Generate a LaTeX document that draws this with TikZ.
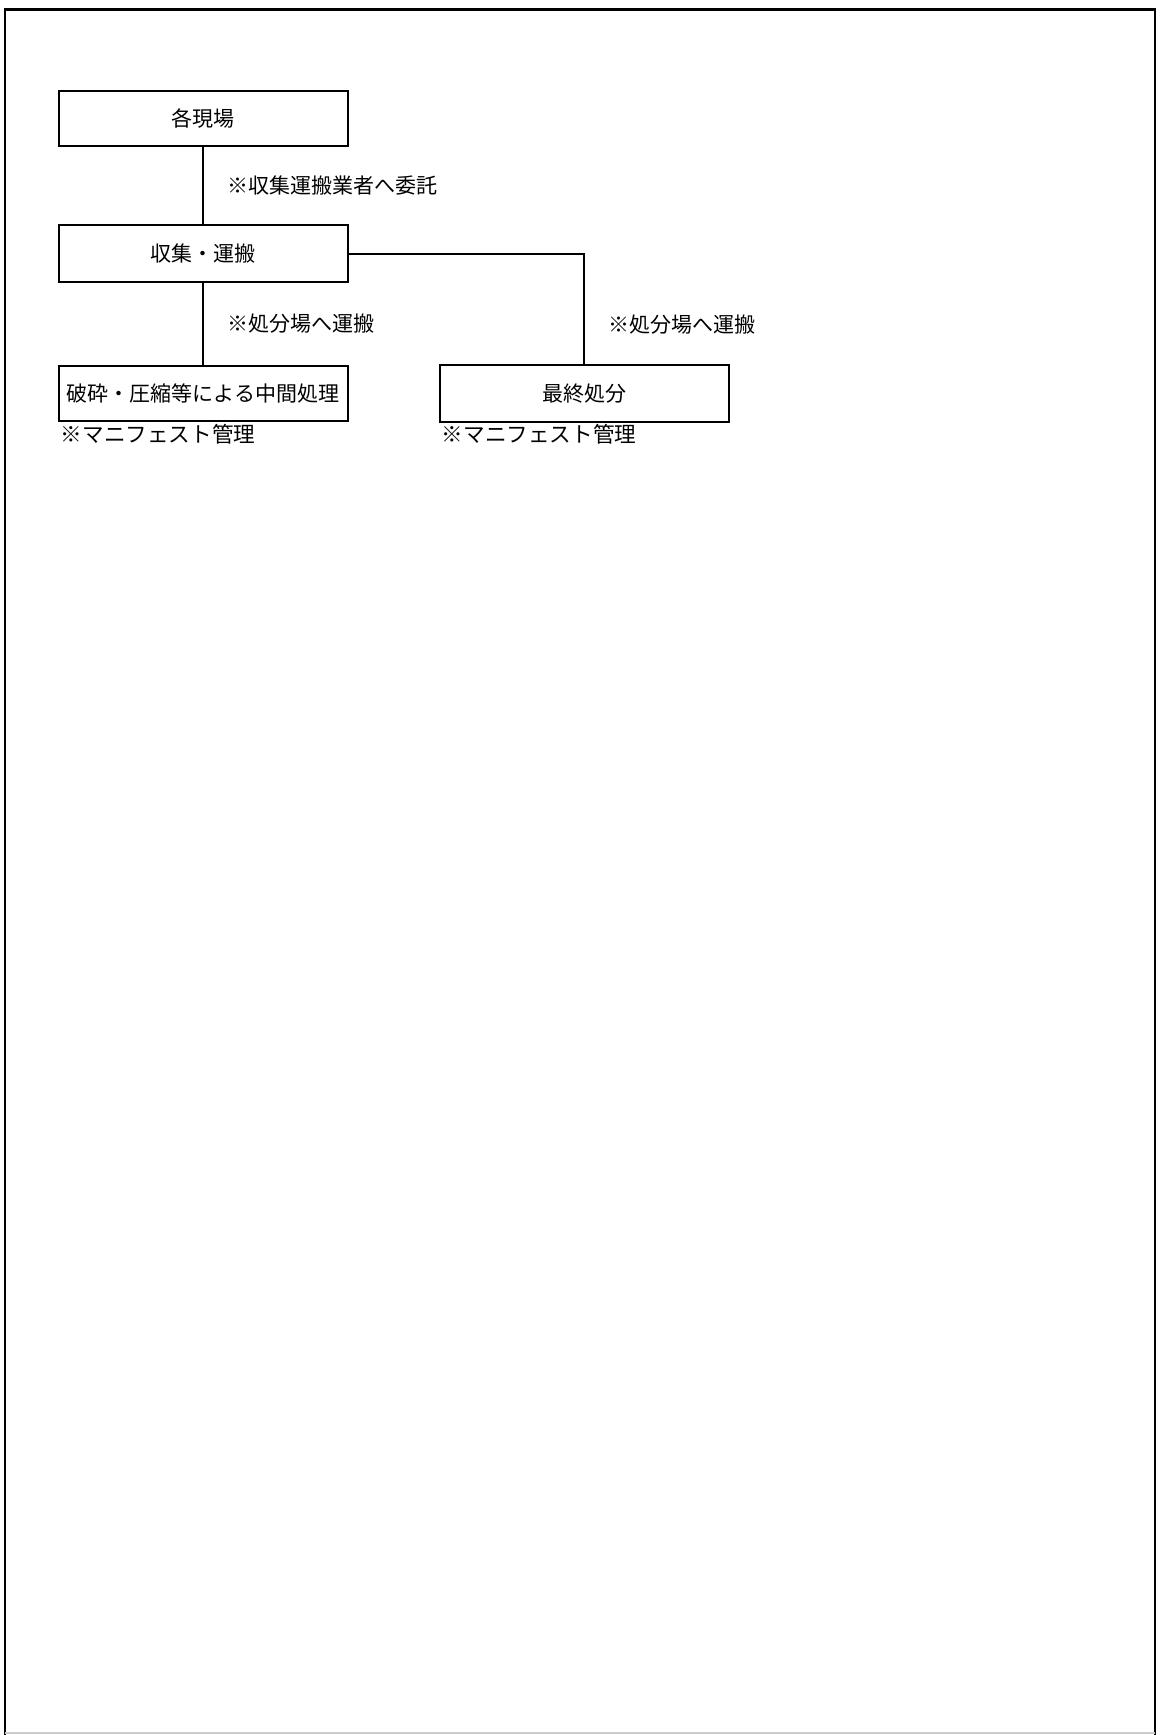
\documentclass[tikz,border=0pt]{standalone}
\usepackage{fontspec}
\newfontfamily\cjk{Noto Sans CJK JP}
\usetikzlibrary{positioning}

\begin{document}
\begin{tikzpicture}[x=0.5pt, y=-0.5pt,
  box/.style={rectangle, draw, line width=1pt, minimum width=144.5pt,
              minimum height=27.5pt, inner sep=2pt,
              font=\cjk\fontsize{10.5}{12}\selectfont},
  note/.style={inner sep=0pt, font=\cjk\fontsize{10.5}{12}\selectfont},
  line/.style={line width=1pt},
  node distance=41pt
]
  \useasboundingbox (0,0) rectangle (1160,1735);
  \draw[line width=1.3pt] (5,1735) -- (5,9.5) -- (1155,9.5) -- (1155,1735);
  \draw[gray!40, line width=1pt] (5,1733) -- (1155,1733);
  \node[box] (site) at (203,118.5) {各現場};
  \node[box, below=38.5pt of site, minimum height=28.5pt] (haul) {収集・運搬};
  \node[box, below=of haul] (mid) {破砕・圧縮等による中間処理};
  \node[box, right=45pt of mid, minimum height=28.5pt] (final) {最終処分};
  \node[note, anchor=north west, font=\cjk\fontsize{10.8}{12}\selectfont] (midnote)
    at ([xshift=1.5pt, yshift=-0.8pt]mid.south west) {※マニフェスト管理};
  \node[note, anchor=north west, font=\cjk\fontsize{10.8}{12}\selectfont] (finalnote)
    at ([xshift=1.5pt, yshift=-0.3pt]final.south west) {※マニフェスト管理};
  \draw[line] (site.south) -- node[note, right=11.5pt] {※収集運搬業者へ委託} (haul.north);
  \draw[line] (haul.south) -- node[note, right=11.5pt] {※処分場へ運搬} (mid.north);
  \draw[line] (haul.east) -| node[note, pos=0.82, right=11.5pt] {※処分場へ運搬} (final.north);
\end{tikzpicture}
\end{document}
